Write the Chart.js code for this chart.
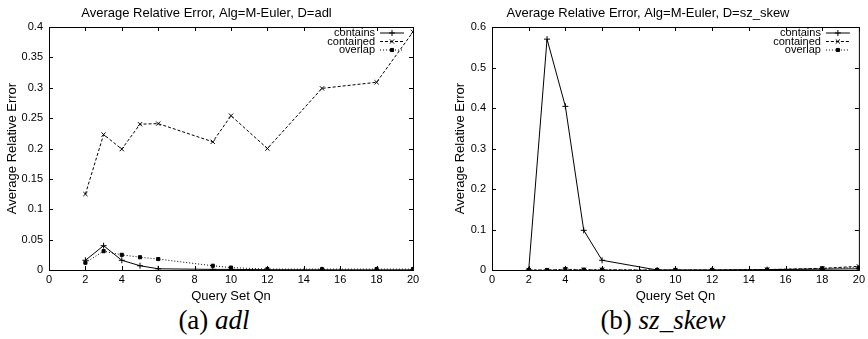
<!DOCTYPE html>
<html>
<head>
<meta charset="utf-8">
<script src="https://cdn.jsdelivr.net/npm/chart.js@4/dist/chart.umd.min.js"></script>
<style>
  html, body { margin: 0; padding: 0; background: #fff; }
  body { width: 868px; height: 339px; position: relative; overflow: hidden; }
  .panel { position: absolute; top: 0; }
  .caption {
    position: absolute; top: 307px; font-family: 'Liberation Serif', 'Times New Roman', serif;
    font-size: 27px; line-height: 27px; color: #000; white-space: nowrap; transform: translateX(-50%);
  }
  .caption i { font-style: italic; }
</style>
</head>
<body>
<div class="panel" style="left:0"><canvas id="chartAdl" width="434" height="305"></canvas></div>
<div class="panel" style="left:434px"><canvas id="chartSkew" width="434" height="305"></canvas></div>
<div class="caption" style="left:214px">(a) <i>adl</i></div>
<div class="caption" style="left:663px">(b) <i>sz_skew</i></div>
<script>
// ── Данные
const QUERY_SETS = [2, 3, 4, 5, 6, 9, 10, 12, 15, 18, 20];
const SERIES_NAMES = ['contains', 'contained', 'overlap'];

const ADL_CONTAINS  = [0.016, 0.040, 0.016, 0.007, 0.002, 0.001, 0.001, 0.0005, 0.0003, 0.0002, 0.0002];
const ADL_CONTAINED = [0.125, 0.223, 0.199, 0.240, 0.241, 0.211, 0.254, 0.200, 0.299, 0.309, 0.392];
const ADL_OVERLAP   = [0.012, 0.031, 0.025, 0.021, 0.018, 0.007, 0.004, 0.0015, 0.0015, 0.0015, 0.0015];

const SKEW_CONTAINS  = [0, 0.570, 0.404, 0.098, 0.024, 0, 0, 0, 0.001, 0.002, 0.003];
const SKEW_CONTAINED = [0, 0, 0.001, 0.0005, 0.0005, 0, 0, 0, 0.001, 0.004, 0.009];
const SKEW_OVERLAP   = [0, 0, 0.002, 0.001, 0.001, 0, 0, 0, 0.001, 0.004, 0.006];

const FONT = "'Liberation Sans', Arial, Helvetica, sans-serif";

// стиль линий как в gnuplot: сплошная, штрих, пунктир
const LINE_STYLES = [
    { dash: [],     point: 'cross',    radius: 3 },
    { dash: [3, 2], point: 'crossRot', radius: 3 },
    { dash: [1, 2], point: 'rect',     radius: 2.2 }
];

function toPoints(values) {
    return QUERY_SETS.map((x, i) => ({ x, y: values[i] }));
}

// ── Рамка, внутренние засечки и легенда в стиле gnuplot
const gnuplotFrame = {
    id: 'gnuplotFrame',
    afterDatasetsDraw(chart) {
        const { ctx, chartArea: a, scales } = chart;
        const tl = 4;
        ctx.save();
        ctx.strokeStyle = '#000';
        ctx.lineWidth = 1;
        ctx.setLineDash([]);
        ctx.strokeRect(a.left + 0.5, a.top + 0.5, a.right - a.left, a.bottom - a.top);
        ctx.beginPath();
        scales.x.ticks.forEach(t => {
            const px = Math.round(scales.x.getPixelForValue(t.value)) + 0.5;
            ctx.moveTo(px, a.bottom); ctx.lineTo(px, a.bottom - tl);
            ctx.moveTo(px, a.top);    ctx.lineTo(px, a.top + tl);
        });
        scales.y.ticks.forEach(t => {
            const py = Math.round(scales.y.getPixelForValue(t.value)) + 0.5;
            ctx.moveTo(a.left, py);  ctx.lineTo(a.left + tl, py);
            ctx.moveTo(a.right, py); ctx.lineTo(a.right - tl, py);
        });
        ctx.stroke();

        // легенда
        ctx.font = '11px ' + FONT;
        ctx.textAlign = 'right';
        ctx.textBaseline = 'middle';
        ctx.fillStyle = '#000';
        chart.data.datasets.forEach((ds, i) => {
            const y = a.top + 6 + i * 8.5;
            const textRight = a.right - 38;
            ctx.fillText(ds.label, textRight, y);
            ctx.beginPath();
            ctx.setLineDash(ds.borderDash || []);
            ctx.moveTo(textRight + 5, y);
            ctx.lineTo(textRight + 29, y);
            ctx.stroke();
            ctx.setLineDash([]);
            Chart.helpers.drawPoint(ctx, {
                pointStyle: ds.pointStyle, radius: ds.pointRadius, rotation: 0, borderWidth: 1
            }, textRight + 17, y);
        });
        ctx.restore();
    }
};

function buildPanel(canvasId, title, seriesValues, yMax, yStep, yAxisWidth, yTitlePad, rightPad) {
    const ctx = document.getElementById(canvasId).getContext('2d');
    const datasets = seriesValues.map((values, i) => ({
        label:            SERIES_NAMES[i],
        data:             toPoints(values),
        borderColor:      '#000',
        backgroundColor:  '#000',
        borderWidth:      1,
        borderDash:       LINE_STYLES[i].dash,
        pointStyle:       LINE_STYLES[i].point,
        pointRadius:      LINE_STYLES[i].radius,
        pointBorderWidth: 1,
        tension:          0,
        fill:             false
    }));

    return new Chart(ctx, {
        type: 'line',
        data: { datasets },
        plugins: [gnuplotFrame],
        options: {
            responsive: false,
            animation:  false,
            devicePixelRatio: 1,
            layout: { autoPadding: false, padding: { top: 0, right: rightPad, bottom: 0, left: 0 } },
            plugins: {
                legend:  { display: false },
                tooltip: { enabled: false },
                title: {
                    display: true,
                    text:    title,
                    color:   '#000',
                    font:    { family: FONT, size: 13, weight: 'normal' },
                    padding: { top: 6, bottom: 5.4 }
                }
            },
            scales: {
                x: {
                    type: 'linear',
                    min: 0, max: 20,
                    afterFit: (s) => { s.height = 35; },
                    grid:   { display: false, drawTicks: false },
                    border: { display: false },
                    ticks:  { stepSize: 2, color: '#000', padding: 3, autoSkip: false, maxRotation: 0,
                              font: { family: FONT, size: 11 } },
                    title:  { display: true, text: 'Query Set Qn', color: '#000',
                              font: { family: FONT, size: 13 }, padding: { top: 0, bottom: 1 } }
                },
                y: {
                    min: 0, max: yMax,
                    afterFit: (s) => { s.width = yAxisWidth; },
                    grid:   { display: false, drawTicks: false },
                    border: { display: false },
                    ticks:  { stepSize: yStep, color: '#000', padding: 6, autoSkip: false,
                              font: { family: FONT, size: 11 },
                              callback: (v) => +v.toFixed(2) + '' },
                    title:  { display: true, text: 'Average Relative Error', color: '#000',
                              font: { family: FONT, size: 13 }, padding: { top: yTitlePad, bottom: 0 } }
                }
            }
        }
    });
}

buildPanel('chartAdl', 'Average Relative Error, Alg=M-Euler, D=adl',
    [ADL_CONTAINS, ADL_CONTAINED, ADL_OVERLAP], 0.4, 0.05, 49, 4.2, 21);
buildPanel('chartSkew', 'Average Relative Error, Alg=M-Euler, D=sz_skew',
    [SKEW_CONTAINS, SKEW_CONTAINED, SKEW_OVERLAP], 0.6, 0.1, 58, 19, 6);
</script>
</body>
</html>
